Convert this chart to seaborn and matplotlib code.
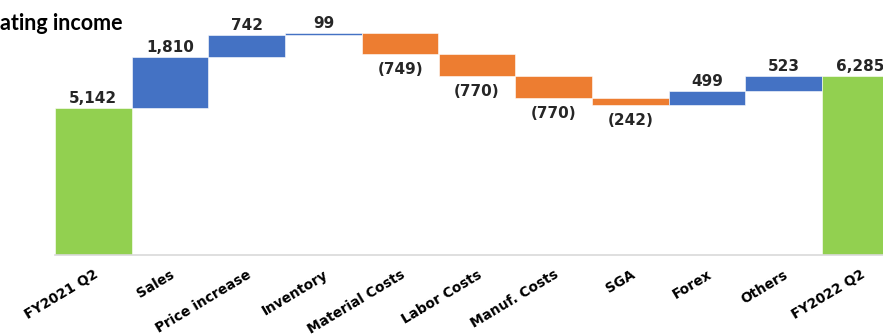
import matplotlib
matplotlib.use("Agg")
import matplotlib.pyplot as plt
import seaborn as sns

# Operating income bridge, FY2021 Q2 -> FY2022 Q2
categories = ["FY2021 Q2", "Sales", "Price increase", "Inventory", "Material Costs",
              "Labor Costs", "Manuf. Costs", "SGA", "Forex", "Others", "FY2022 Q2"]
start_total = 5142
changes = [1810, 742, 99, -749, -770, -770, -242, 499, 523]
end_total = 6285

GREEN = "#92D050"
BLUE = "#4472C4"
ORANGE = "#ED7D31"

# Build bar bottoms/heights for the waterfall
bottoms, heights, colors, labels, signs = [0], [start_total], [GREEN], [f"{start_total:,}"], [1]
level = start_total
for d in changes:
    if d >= 0:
        bottoms.append(level)
        heights.append(d)
        colors.append(BLUE)
        labels.append(f"{d:,}")
        signs.append(1)
    else:
        bottoms.append(level + d)
        heights.append(-d)
        colors.append(ORANGE)
        labels.append(f"({-d:,})")
        signs.append(-1)
    level += d
bottoms.append(0)
heights.append(end_total)
colors.append(GREEN)
labels.append(f"{end_total:,}")
signs.append(1)

sns.set_theme(style="white")
plt.rcParams["font.family"] = ["DejaVu Sans"]

fig = plt.figure(figsize=(8.83, 3.36), dpi=100)
ax = fig.add_axes([55 / 883, 81 / 336, 828 / 883, 255 / 336])

sns.barplot(x=categories, y=heights, bottom=bottoms, width=1.0, order=categories,
            color=BLUE, linewidth=0, ax=ax)
for patch, c in zip(ax.patches, colors):
    patch.set_facecolor(c)
    patch.set_edgecolor("white")
    patch.set_linewidth(0.4)

ax.set_xlim(-0.5, -0.5 + 828 / 76.7)
ax.set_ylim(0, 8938)

# Value labels above rises, below falls
for i, (b, h, lab, s) in enumerate(zip(bottoms, heights, labels, signs)):
    if s > 0:
        ax.annotate(lab, (i, b + h), xytext=(0, 1.5), textcoords="offset points",
                    ha="center", va="bottom", fontsize=11, fontweight="bold",
                    color="#262626")
    else:
        ax.annotate(lab, (i, b), xytext=(0, -5.5), textcoords="offset points",
                    ha="center", va="top", fontsize=11, fontweight="bold",
                    color="#262626")

ax.set_yticks([])
ax.set_ylabel("")
for side in ["left", "right", "top"]:
    ax.spines[side].set_visible(False)
ax.spines["bottom"].set_color("#D9D9D9")
ax.spines["bottom"].set_linewidth(1.2)

ax.tick_params(axis="x", length=0, pad=9)
for t in ax.get_xticklabels():
    t.set_rotation(31)
    t.set_ha("right")
    t.set_rotation_mode("anchor")
    t.set_fontsize(9.8)
    t.set_fontweight("bold")
    t.set_color("black")

fig.text(0, 1 - 30 / 336, "ating income", ha="left", va="baseline",
         fontsize=15.5, fontweight="bold", family=["Lato", "DejaVu Sans"], color="black")

fig.savefig("out.png", dpi=100)
